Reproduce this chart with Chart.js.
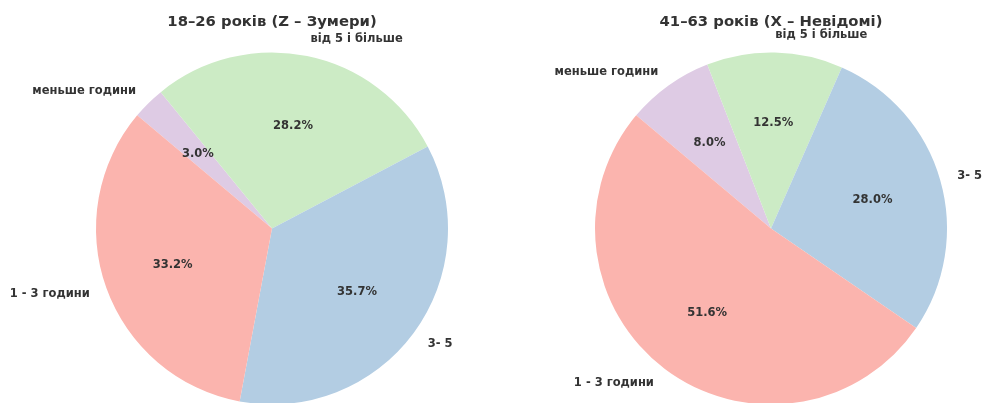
<!DOCTYPE html>
<html>
<head>
<meta charset="utf-8">
<script src="https://cdn.jsdelivr.net/npm/chart.js@4.4.1/dist/chart.umd.min.js"></script>
<style>
  html, body { margin: 0; padding: 0; background: #fff; }
  #wrap { position: relative; width: 983px; height: 403px; overflow: hidden; }
  canvas { position: absolute; top: 0; }
</style>
</head>
<body>
<div id="wrap">
  <canvas id="pieZ" width="491" height="405" style="left:0"></canvas>
  <canvas id="pieX" width="492" height="405" style="left:491px"></canvas>
</div>
<script>
// categories and shares (%)
var categories = ['1 - 3 години', '3- 5', 'від 5 і більше', 'меньше години'];
var zoomersValues = [33.2, 35.7, 28.2, 3.0];
var genXValues = [51.6, 28.0, 12.5, 8.0];
var colors = ['#fbb4ae', '#b3cde3', '#ccebc5', '#decbe4'];
var titleZ = '18–26 років (Z – Зумери)';
var titleX = '41–63 років (X – Невідомі)';

var textColor = '#333333';
var fontFamily = "'DejaVu Sans', sans-serif";

// matplotlib draws slices counter-clockwise, chart.js clockwise -> reverse the order
function rev(a) { return a.slice().reverse(); }

// labels outside (1.1 r) and percentages inside (0.6 r), like autopct
var pieLabels = {
    id: 'pieLabels',
    afterDatasetsDraw: function(chart) {
        var ctx = chart.ctx;
        var meta = chart.getDatasetMeta(0);
        var labels = chart.data.labels;
        var vals = chart.data.datasets[0].data;
        ctx.save();
        ctx.fillStyle = textColor;
        ctx.textBaseline = 'middle';
        meta.data.forEach(function(arc, i) {
            var p = arc.getProps(['x', 'y', 'startAngle', 'endAngle', 'outerRadius'], true);
            var mid = (p.startAngle + p.endAngle) / 2;
            var c = Math.cos(mid), s = Math.sin(mid);
            ctx.font = 'bold 11.5px ' + fontFamily;
            ctx.textAlign = 'center';
            ctx.fillText(vals[i].toFixed(1) + '%', p.x + c * p.outerRadius * 0.6, p.y + s * p.outerRadius * 0.6 + 0.5);
            ctx.textAlign = c < 0 ? 'right' : 'left';
            ctx.fillText(labels[i], p.x + c * p.outerRadius * 1.1, p.y + s * p.outerRadius * 1.1 + 0.5);
        });
        ctx.restore();
    }
};

function makePie(id, values, title, pad) {
    return new Chart(document.getElementById(id), {
        type: 'pie',
        data: {
            labels: rev(categories),
            datasets: [{
                data: rev(values),
                backgroundColor: rev(colors),
                borderWidth: 0
            }]
        },
        options: {
            responsive: false,
            animation: false,
            rotation: -50,
            layout: { padding: pad },
            plugins: {
                legend: { display: false },
                tooltip: { enabled: false },
                title: {
                    display: true,
                    text: title,
                    color: textColor,
                    font: { family: fontFamily, size: 14.8, weight: 'bold' },
                    padding: { top: 13, bottom: 21.24 }
                }
            }
        },
        plugins: [pieLabels]
    });
}

makePie('pieZ', zoomersValues, titleZ, { left: 96, right: 43, top: 0, bottom: 0 });
makePie('pieX', genXValues, titleX, { left: 104, right: 36, top: 0, bottom: 0 });
</script>
</body>
</html>
